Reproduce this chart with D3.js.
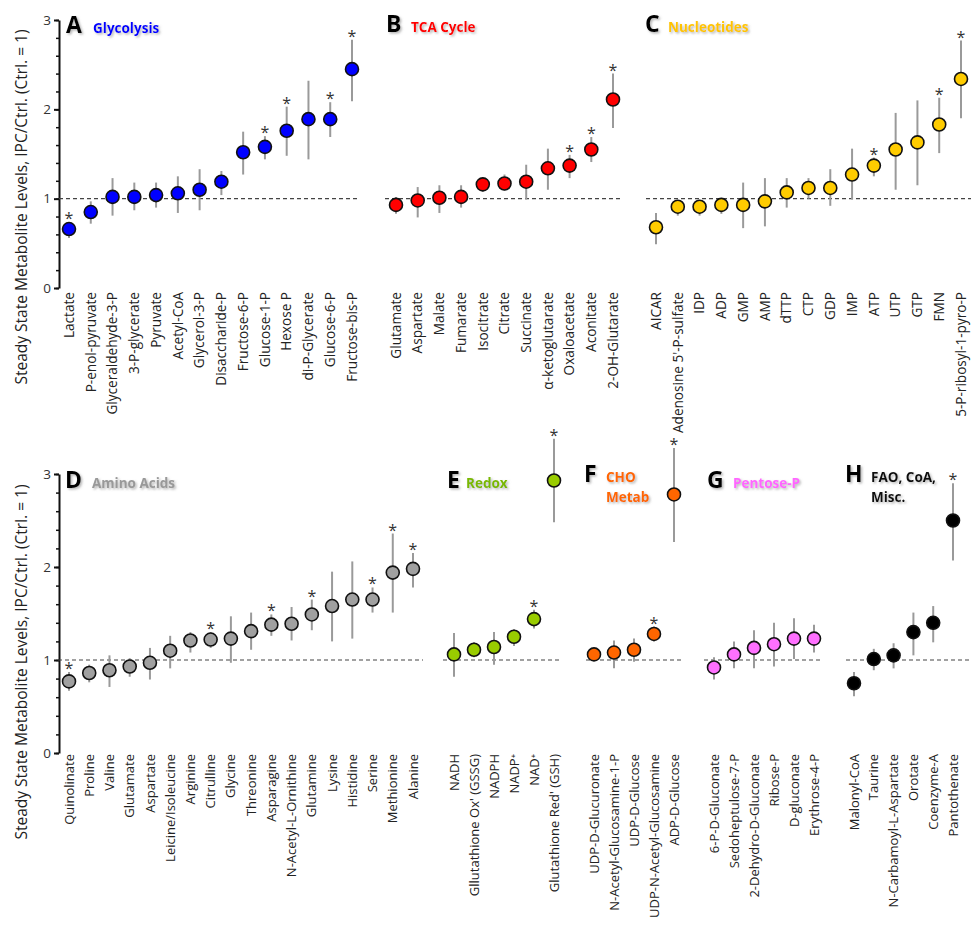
<!DOCTYPE html>
<html>
<head>
<meta charset="utf-8">
<script src="https://cdn.jsdelivr.net/npm/d3@7"></script>
<style>
  body { margin: 0; background: #fff; }
  svg { font-family: "Open Sans", sans-serif; }
  .lbl { fill: #222; }
  .tick text { font-size: 13.5px; fill: #333; font-family: "Open Sans", sans-serif; }
</style>
</head>
<body>
<svg></svg>
<script>
// DATA
const glyNames = ["Lactate", "P-enol-pyruvate", "Glyceraldehyde-3-P", "3-P-glycerate", "Pyruvate", "Acetyl-CoA", "Glycerol-3-P", "Disaccharide-P", "Fructose-6-P", "Glucose-1-P", "Hexose P", "di-P-Glycerate", "Glucose-6-P", "Fructose-bis-P"]
const glyMean = [0.66, 0.85, 1.02, 1.02, 1.04, 1.06, 1.10, 1.19, 1.52, 1.58, 1.76, 1.89, 1.89, 2.45]
const glyLow = [0.56, 0.72, 0.81, 0.87, 0.90, 0.84, 0.87, 1.04, 1.27, 1.44, 1.48, 1.44, 1.69, 2.09]
const glyHigh = [0.74, 0.97, 1.23, 1.18, 1.18, 1.25, 1.33, 1.31, 1.75, 1.70, 2.03, 2.32, 2.08, 2.78]
const glySig = ["Lactate", "Glucose-1-P", "Hexose P", "Glucose-6-P", "Fructose-bis-P"]

const tcaNames = ["Glutamate", "Aspartate", "Malate", "Fumarate", "Isocitrate", "Citrate", "Succinate", "α-ketoglutarate", "Oxaloacetate", "Aconitate", "2-OH-Glutarate"]
const tcaMean = [0.93, 0.98, 1.01, 1.02, 1.16, 1.17, 1.19, 1.34, 1.37, 1.55, 2.11]
const tcaLow = [0.83, 0.79, 0.84, 0.90, 1.08, 1.09, 0.99, 1.10, 1.23, 1.41, 1.79]
const tcaHigh = [1.02, 1.13, 1.15, 1.15, 1.21, 1.27, 1.38, 1.56, 1.49, 1.69, 2.40]
const tcaSig = ["Oxaloacetate", "Aconitate", "2-OH-Glutarate"]

const nucNames = ["AICAR", "Adenosine 5'-P-sulfate", "IDP", "ADP", "GMP", "AMP", "dTTP", "CTP", "GDP", "IMP", "ATP", "UTP", "GTP", "FMN", "5-P-ribosyl-1-pyro-P"]
const nucMean = [0.68, 0.91, 0.91, 0.93, 0.93, 0.97, 1.07, 1.12, 1.12, 1.27, 1.37, 1.55, 1.63, 1.83, 2.34]
const nucLow = [0.49, 0.81, 0.81, 0.83, 0.67, 0.69, 0.90, 1.00, 0.92, 0.99, 1.25, 1.10, 1.15, 1.51, 1.90]
const nucHigh = [0.84, 0.97, 0.97, 0.99, 1.18, 1.23, 1.23, 1.23, 1.33, 1.56, 1.46, 1.96, 2.10, 2.13, 2.77]
const nucSig = ["ATP", "FMN", "5-P-ribosyl-1-pyro-P"]

const aaNames = ["Quinolinate", "Proline", "Valine", "Glutamate", "Aspartate", "Leicine/Isoleucine", "Arginine", "Citrulline", "Glycine", "Threonine", "Asparagine", "N-Acetyl-L-Ornithine", "Glutamine", "Lysine", "Histidine", "Serine", "Methionine", "Alanine"]
const aaMean = [0.77, 0.86, 0.89, 0.93, 0.97, 1.10, 1.21, 1.22, 1.23, 1.31, 1.38, 1.39, 1.49, 1.58, 1.65, 1.65, 1.94, 1.98]
const aaLow = [0.67, 0.76, 0.71, 0.82, 0.79, 0.91, 1.08, 1.13, 0.97, 1.11, 1.26, 1.21, 1.32, 1.20, 1.23, 1.51, 1.51, 1.78]
const aaHigh = [0.87, 0.95, 1.05, 1.02, 1.13, 1.26, 1.30, 1.30, 1.47, 1.51, 1.49, 1.57, 1.65, 1.95, 2.06, 1.78, 2.36, 2.15]
const aaSig = ["Quinolinate", "Citrulline", "Asparagine", "Glutamine", "Serine", "Methionine", "Alanine"]

const redoxNames = ["NADH", "Gllutathione Ox' (GSSG)", "NADPH", "NADP⁺", "NAD⁺", "Glutathione Red' (GSH)"]
const redoxMean = [1.06, 1.11, 1.14, 1.25, 1.44, 2.93]
const redoxLow = [0.82, 1.03, 0.95, 1.15, 1.34, 2.48]
const redoxHigh = [1.29, 1.19, 1.30, 1.33, 1.54, 3.38]
const redoxSig = ["NAD⁺", "Glutathione Red' (GSH)"]

const choNames = ["UDP-D-Glucuronate", "N-Acetyl-Glucosamine-1-P", "UDP-D-Glucose", "UDP-N-Acetyl-Glucosamine", "ADP-D-Glucose"]
const choMean = [1.06, 1.08, 1.11, 1.28, 2.78]
const choLow = [1.02, 0.91, 0.98, 1.20, 2.27]
const choHigh = [1.10, 1.21, 1.23, 1.36, 3.28]
const choSig = ["UDP-N-Acetyl-Glucosamine", "ADP-D-Glucose"]

const pentNames = ["6-P-D-Gluconate", "Sedoheptulose-7-P", "2-Dehydro-D-Gluconate", "Ribose-P", "D-gluconate", "Erythrose-4-P"]
const pentMean = [0.92, 1.06, 1.13, 1.17, 1.23, 1.23]
const pentLow = [0.79, 0.91, 0.91, 0.93, 1.01, 1.08]
const pentHigh = [1.03, 1.20, 1.32, 1.40, 1.45, 1.38]
const pentSig = []

const faoNames = ["Malonyl-CoA", "Taurine", "N-Carbamoyl-L-Aspartate", "Orotate", "Coenzyme-A", "Pantothenate"]
const faoMean = [0.75, 1.01, 1.05, 1.30, 1.40, 2.50]
const faoLow = [0.61, 0.89, 0.91, 1.05, 1.19, 2.07]
const faoHigh = [0.87, 1.12, 1.18, 1.51, 1.58, 2.90]
const faoSig = ["Pantothenate"]

const yTicks = [0, 1, 2, 3]
const yTitle = "Steady State Metabolite Levels, IPC/Ctrl. (Ctrl. = 1)"

// SETUP
const svg = d3.select("svg")
  .attr("width", 971)
  .attr("height", 927)

const defs = svg.append("defs")
const shadow = defs.append("filter").attr("id", "shadow")
  .attr("x", "-20%").attr("y", "-20%").attr("width", "150%").attr("height", "150%")
shadow.append("feDropShadow")
  .attr("dx", 1.5).attr("dy", 1.5).attr("stdDeviation", 1)
  .attr("flood-color", "#777").attr("flood-opacity", 0.55)

const rows = [
  { y: d3.scaleLinear().domain([0, 3]).range([288, 20]), labelY: 292, labelSize: "13.6px", titleY: 207 },
  { y: d3.scaleLinear().domain([0, 3]).range([753, 474]), labelY: 754, labelSize: "13px", titleY: 662 }
]

rows.forEach((row) => {
  const minor = svg.append("g")
    .attr("transform", "translate(59, 0)")
    .call(d3.axisLeft(row.y).tickValues(d3.range(0, 3.01, 0.2)).tickSize(3).tickSizeOuter(0).tickFormat(""))
  minor.select(".domain").remove()
  minor.selectAll("line").attr("stroke", "#111").attr("stroke-width", 1.5)

  const major = svg.append("g")
    .attr("transform", "translate(59, 0)")
    .call(d3.axisLeft(row.y).tickValues(yTicks).tickSize(5).tickSizeOuter(0).tickPadding(3).tickFormat(d3.format("d")))
  major.select(".domain").attr("stroke", "#111").attr("stroke-width", 2)
  major.selectAll("line").attr("stroke", "#111").attr("stroke-width", 2)

  svg.append("text")
    .attr("transform", `translate(27, ${row.titleY}) rotate(-90)`)
    .attr("text-anchor", "middle")
    .style("font-size", "15.5px")
    .style("fill", "#222")
    .text(yTitle)
})

const panels = [
  { row: 0, names: glyNames, mean: glyMean, low: glyLow, high: glyHigh, sig: glySig, fill: "#0000ff",
    xr: [69, 352], dash: [59, 360], letter: "A", lx: 66, ly: 33, title: ["Glycolysis"], tx: 93, ty: 33, tcol: "#0000ff" },
  { row: 0, names: tcaNames, mean: tcaMean, low: tcaLow, high: tcaHigh, sig: tcaSig, fill: "#ff0000",
    xr: [396, 613], dash: [385, 620], letter: "B", lx: 386, ly: 32, title: ["TCA Cycle"], tx: 411, ty: 32, tcol: "#ff0000" },
  { row: 0, names: nucNames, mean: nucMean, low: nucLow, high: nucHigh, sig: nucSig, fill: "#ffcc00",
    xr: [656, 961], dash: [646, 971], letter: "C", lx: 645, ly: 32, title: ["Nucleotides"], tx: 668, ty: 32, tcol: "#ffc400" },
  { row: 1, names: aaNames, mean: aaMean, low: aaLow, high: aaHigh, sig: aaSig, fill: "#a0a0a0",
    xr: [69, 413], dash: [58, 423], letter: "D", lx: 65, ly: 488, title: ["Amino Acids"], tx: 92, ty: 488, tcol: "#999999" },
  { row: 1, names: redoxNames, mean: redoxMean, low: redoxLow, high: redoxHigh, sig: redoxSig, fill: "#99cc00",
    xr: [454, 554], dash: [443, 562], letter: "E", lx: 447, ly: 488, title: ["Redox"], tx: 466, ty: 488, tcol: "#7ab800" },
  { row: 1, names: choNames, mean: choMean, low: choLow, high: choHigh, sig: choSig, fill: "#ff6600",
    xr: [594, 674], dash: [586, 683], letter: "F", lx: 584, ly: 482, title: ["CHO", "Metab"], tx: 606, ty: 482, tcol: "#ff6600" },
  { row: 1, names: pentNames, mean: pentMean, low: pentLow, high: pentHigh, sig: pentSig, fill: "#ff70ff",
    xr: [714, 814], dash: [704, 820], letter: "G", lx: 707, ly: 488, title: ["Pentose-P"], tx: 733, ty: 488, tcol: "#ff66ff" },
  { row: 1, names: faoNames, mean: faoMean, low: faoLow, high: faoHigh, sig: faoSig, fill: "#000000",
    xr: [854, 953], dash: [846, 971], letter: "H", lx: 845, ly: 482, title: ["FAO, CoA,", "Misc."], tx: 871, ty: 482, tcol: "#111111" }
]

// DRAW
panels.forEach((p) => {
  const row = rows[p.row]
  const y = row.y
  const x = d3.scalePoint().domain(p.names).range(p.xr)
  const data = p.names.map((name, i) => ({ name: name, mean: p.mean[i], low: p.low[i], high: p.high[i] }))
  const g = svg.append("g")

  g.append("line")
    .attr("x1", p.dash[0]).attr("x2", p.dash[1])
    .attr("y1", y(1)).attr("y2", y(1))
    .attr("stroke", "#444").attr("stroke-width", 1.2)
    .attr("stroke-dasharray", "4,3")

  g.selectAll("line.err")
    .data(data)
    .enter()
    .append("line")
    .attr("class", "err")
    .attr("x1", (d) => x(d.name)).attr("x2", (d) => x(d.name))
    .attr("y1", (d) => y(d.low)).attr("y2", (d) => y(d.high))
    .attr("stroke", "#9a9a9a").attr("stroke-width", 2)

  g.selectAll("circle")
    .data(data)
    .enter()
    .append("circle")
    .attr("cx", (d) => x(d.name))
    .attr("cy", (d) => y(d.mean))
    .attr("r", 6.5)
    .attr("fill", p.fill)
    .attr("stroke", "#111").attr("stroke-width", 1.6)

  g.selectAll("text.star")
    .data(data.filter((d) => p.sig.includes(d.name)))
    .enter()
    .append("text")
    .attr("class", "star")
    .attr("x", (d) => x(d.name))
    .attr("y", (d) => y(d.high) + 2)
    .attr("text-anchor", "middle")
    .style("font-size", "16px")
    .style("fill", "#333")
    .text("*")

  g.selectAll("text.lbl")
    .data(data)
    .enter()
    .append("text")
    .attr("class", "lbl")
    .attr("transform", (d) => `translate(${x(d.name)}, ${row.labelY}) rotate(-90)`)
    .attr("dy", "0.35em")
    .attr("text-anchor", "end")
    .style("font-size", row.labelSize)
    .text((d) => d.name)

  g.append("text")
    .attr("x", p.lx).attr("y", p.ly)
    .attr("filter", "url(#shadow)")
    .style("font-size", "23px")
    .style("font-weight", "bold")
    .style("fill", "#000")
    .text(p.letter)

  p.title.forEach((t, i) => {
    g.append("text")
      .attr("x", p.tx).attr("y", p.ty + i * 20)
      .attr("filter", "url(#shadow)")
      .style("font-size", "13.5px")
      .style("font-weight", "bold")
      .style("fill", p.tcol)
      .text(t)
  })
})
</script>
</body>
</html>
